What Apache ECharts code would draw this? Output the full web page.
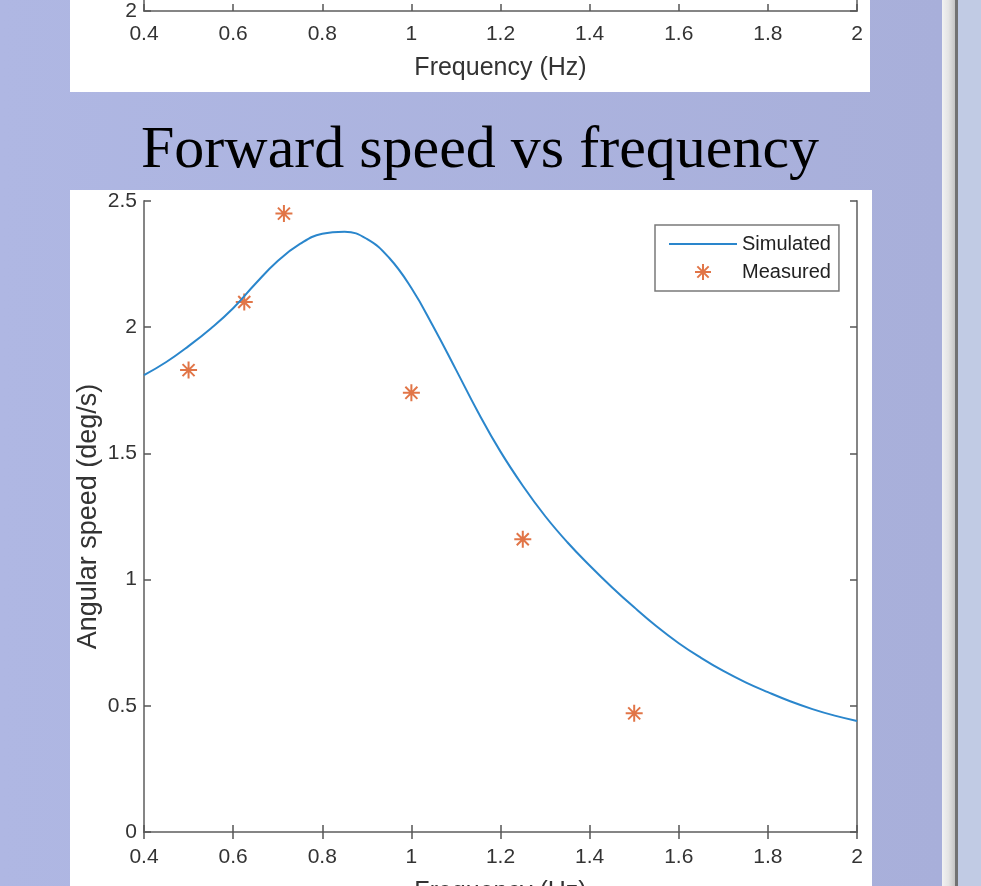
<!DOCTYPE html>
<html>
<head>
<meta charset="utf-8">
<script src="https://cdn.jsdelivr.net/npm/echarts@6/dist/echarts.min.js"></script>
<style>
html,body{margin:0;padding:0;background:#afb7e3;}
#chart{width:981px;height:886px;}
</style>
</head>
<body>
<div id="chart"></div>
<script>
// ---- data ----
var titleText = 'Forward speed vs frequency';
var xAxisName = 'Frequency (Hz)';
var yAxisName = 'Angular speed (deg/s)';
var seriesNames = ['Simulated', 'Measured'];

var xTicks = [0.4, 0.6, 0.8, 1, 1.2, 1.4, 1.6, 1.8, 2];
var xTickLabels = ['0.4', '0.6', '0.8', '1', '1.2', '1.4', '1.6', '1.8', '2'];
var yTicks = [0, 0.5, 1, 1.5, 2, 2.5];
var yTickLabels = ['0', '0.5', '1', '1.5', '2', '2.5'];
var upperYTicks = [2, 2.5];
var upperYTickLabels = ['2', ''];

// Simulated curve
var simFreq = [0.40, 0.45, 0.50, 0.55, 0.60, 0.65, 0.70, 0.75, 0.80, 0.85, 0.90, 0.95,
               1.00, 1.05, 1.10, 1.15, 1.20, 1.25, 1.30, 1.35, 1.40, 1.45, 1.50, 1.55,
               1.60, 1.65, 1.70, 1.75, 1.80, 1.85, 1.90, 1.95, 2.00];
var simSpeed = [1.81, 1.862, 1.925, 1.995, 2.075, 2.172, 2.262, 2.33, 2.37, 2.378, 2.35, 2.275,
                2.155, 2.0, 1.832, 1.662, 1.507, 1.372, 1.252, 1.148, 1.056, 0.97, 0.89, 0.815,
                0.748, 0.69, 0.638, 0.593, 0.554, 0.518, 0.487, 0.461, 0.44];

// Measured points
var measFreq = [0.5, 0.625, 0.714, 1.0, 1.25, 1.5];
var measSpeed = [1.83, 2.10, 2.45, 1.74, 1.16, 0.47];

// ---- build ----
function zip(a, b) { return a.map(function (v, i) { return [v, b[i]]; }); }
function lookup(ticks, labels) {
  return function (v) {
    for (var i = 0; i < ticks.length; i++) if (Math.abs(ticks[i] - v) < 1e-6) return labels[i];
    return '';
  };
}

var FONT = 'Liberation Sans';
var AXIS_COLOR = '#858585';
var TEXT_COLOR = '#333333';
var starPath = 'path://M0,-8L0,8M-8,0L8,0M-5.66,-5.66L5.66,5.66M-5.66,5.66L5.66,-5.66';

function xAx(grid, pos, showLabel, showName, labelMargin, nameGap) {
  return {
    type: 'value', gridIndex: grid, position: pos,
    min: 0.4, max: 2, interval: 0.2,
    axisLine: { show: true, lineStyle: { color: AXIS_COLOR, width: 2 } },
    axisTick: { show: true, inside: true, length: 7, lineStyle: { color: '#555', width: 1.5 } },
    axisLabel: { show: showLabel, margin: labelMargin || 13, fontSize: 21, color: TEXT_COLOR, fontFamily: FONT,
                 formatter: lookup(xTicks, xTickLabels) },
    splitLine: { show: false },
    name: showName ? xAxisName : '',
    nameLocation: 'middle', nameGap: nameGap || 45, nameMoveOverlap: false,
    nameTextStyle: { fontSize: 25, color: TEXT_COLOR, fontFamily: FONT }
  };
}
function yAx(grid, pos, min, max, showLabel, labels, ticks, name) {
  return {
    type: 'value', gridIndex: grid, position: pos,
    min: min, max: max, interval: 0.5,
    axisLine: { show: true, lineStyle: { color: AXIS_COLOR, width: 2 } },
    axisTick: { show: true, inside: true, length: 7, lineStyle: { color: '#555', width: 1.5 } },
    axisLabel: { show: showLabel, margin: 7, fontSize: 21, color: TEXT_COLOR, fontFamily: FONT,
                 formatter: lookup(ticks, labels) },
    splitLine: { show: false },
    name: name || '',
    nameLocation: 'middle', nameGap: 42, nameMoveOverlap: false,
    nameTextStyle: { fontSize: 27, color: TEXT_COLOR, fontFamily: FONT }
  };
}

var chart = echarts.init(document.getElementById('chart'), null, { renderer: 'canvas' });
chart.setOption({
  backgroundColor: 'transparent',
  animation: false,
  graphic: [
    { type: 'rect', z: -100, shape: { x: 0, y: 0, width: 942, height: 886 },
      style: { fill: new echarts.graphic.LinearGradient(0, 0, 1, 0, [
        { offset: 0, color: '#afb7e3' }, { offset: 1, color: '#a8afda' }]) } },
    { type: 'rect', z: -100, shape: { x: 942, y: 0, width: 13, height: 886 },
      style: { fill: new echarts.graphic.LinearGradient(0, 0, 1, 0, [
        { offset: 0, color: '#f2f2f2' }, { offset: 0.5, color: '#e4e4e4' }, { offset: 1, color: '#c4c4c4' }]) } },
    { type: 'rect', z: -100, shape: { x: 955, y: 0, width: 3, height: 886 }, style: { fill: '#727272' } },
    { type: 'rect', z: -100, shape: { x: 958, y: 0, width: 23, height: 886 }, style: { fill: '#c1cbe4' } },
    { type: 'rect', z: -90, shape: { x: 70, y: 0, width: 800, height: 92 }, style: { fill: '#ffffff' } },
    { type: 'rect', z: -90, shape: { x: 70, y: 190, width: 802, height: 696 }, style: { fill: '#ffffff' } },
    { type: 'text', z: 10, x: 480, y: 151,
      style: { text: titleText, fontFamily: 'Liberation Serif', fontSize: 60, fill: '#000',
               align: 'center', verticalAlign: 'middle' } }
  ],
  grid: [
    { left: 144, right: 124, top: 201, bottom: 54, outerBoundsMode: 'none' },
    { left: 144, right: 124, top: -50, bottom: 875, outerBoundsMode: 'none' }
  ],
  xAxis: [
    xAx(0, 'bottom', true, true, 15, 48),
    xAx(0, 'top', false, false),
    xAx(1, 'bottom', true, true, 13, 45)
  ],
  yAxis: [
    yAx(0, 'left', 0, 2.5, true, yTickLabels, yTicks, yAxisName),
    yAx(0, 'right', 0, 2.5, false, yTickLabels, yTicks, ''),
    yAx(1, 'left', 2, 2.5, true, upperYTickLabels, upperYTicks, ''),
    yAx(1, 'right', 2, 2.5, false, upperYTickLabels, upperYTicks, '')
  ],
  legend: {
    data: seriesNames,
    orient: 'vertical', left: 655, top: 225,
    backgroundColor: '#ffffff', borderColor: '#7a7a7a', borderWidth: 1.5,
    padding: [9, 8, 9, 13], itemWidth: 68, itemHeight: 16, itemGap: 8,
    textStyle: { fontSize: 20, color: '#222', fontFamily: FONT }
  },
  series: [
    { name: seriesNames[0], type: 'line', xAxisIndex: 0, yAxisIndex: 0,
      data: zip(simFreq, simSpeed), symbol: 'none', smooth: 0.45,
      lineStyle: { color: '#2a86cc', width: 2 }, itemStyle: { color: 'rgba(0,0,0,0)' } },
    { name: seriesNames[1], type: 'scatter', xAxisIndex: 0, yAxisIndex: 0,
      data: zip(measFreq, measSpeed), symbol: starPath, symbolSize: 17,
      itemStyle: { color: '#D95319', borderColor: '#D95319', borderWidth: 2 } }
  ]
});
</script>
</body>
</html>
